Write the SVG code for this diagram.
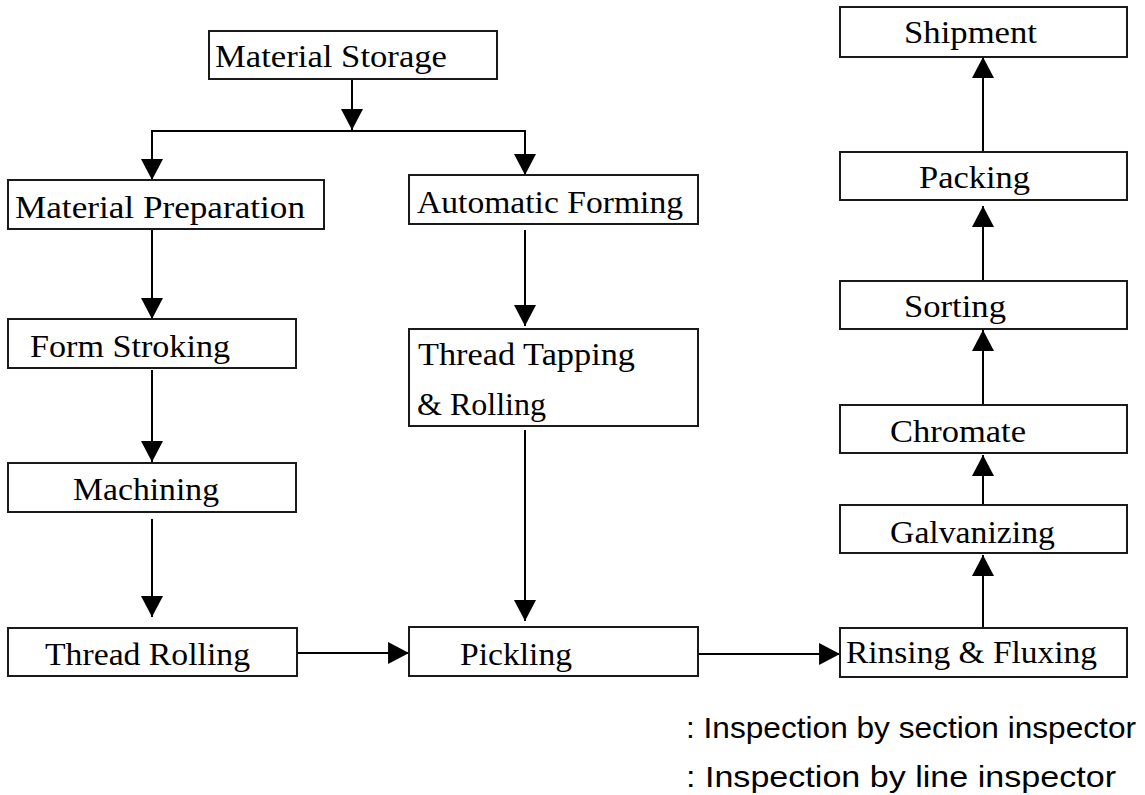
<svg xmlns="http://www.w3.org/2000/svg" width="1145" height="795" viewBox="0 0 1145 795">
  <style>
    .box { fill: #ffffff; stroke: #1a1a1a; stroke-width: 2; }
    .lbl { font-family: "Liberation Serif", "Times New Roman", serif; font-size: 31px; fill: #000000; }
    .note { font-family: "Liberation Sans", Arial, sans-serif; font-size: 30px; fill: #000000; }
    .flow { fill: none; stroke: #000000; stroke-width: 2; }
  </style>
  <defs>
    <marker id="head" markerUnits="userSpaceOnUse" markerWidth="22" markerHeight="22" viewBox="0 0 20 21" refX="20" refY="10.5" orient="auto">
      <path d="M0,0 L20,10.5 L0,21 z" fill="#000000"/>
    </marker>
  </defs>
  <rect width="1145" height="795" fill="#ffffff"/>

  <!-- connectors -->
  <g id="connectors">
    <path class="flow" d="M352,79 V130" marker-end="url(#head)"/>
    <path class="flow" d="M352,131 H152 V180" marker-end="url(#head)"/>
    <path class="flow" d="M352,131 H525 V175" marker-end="url(#head)"/>
    <path class="flow" d="M152,229 V319" marker-end="url(#head)"/>
    <path class="flow" d="M152,370 V462" marker-end="url(#head)"/>
    <path class="flow" d="M152,519 V617" marker-end="url(#head)"/>
    <path class="flow" d="M525,230 V326" marker-end="url(#head)"/>
    <path class="flow" d="M525,430 V621" marker-end="url(#head)"/>
    <path class="flow" d="M297,653 H409" marker-end="url(#head)"/>
    <path class="flow" d="M698,654 H840" marker-end="url(#head)"/>
    <path class="flow" d="M983,628 V555" marker-end="url(#head)"/>
    <path class="flow" d="M983,505 V455" marker-end="url(#head)"/>
    <path class="flow" d="M983,405 V330" marker-end="url(#head)"/>
    <path class="flow" d="M983,281 V206" marker-end="url(#head)"/>
    <path class="flow" d="M983,152 V57" marker-end="url(#head)"/>
  </g>

  <!-- process steps -->
  <g id="material-storage">
    <rect class="box" x="209" y="31" width="288" height="48"/>
    <text class="lbl" x="215" y="67" textLength="232" lengthAdjust="spacingAndGlyphs">Material Storage</text>
  </g>
  <g id="material-preparation">
    <rect class="box" x="8" y="180" width="316" height="49"/>
    <text class="lbl" x="15" y="218" textLength="290" lengthAdjust="spacingAndGlyphs">Material Preparation</text>
  </g>
  <g id="automatic-forming">
    <rect class="box" x="409" y="175" width="289" height="49"/>
    <text class="lbl" x="417" y="213" textLength="266" lengthAdjust="spacingAndGlyphs">Automatic Forming</text>
  </g>
  <g id="form-stroking">
    <rect class="box" x="8" y="319" width="288" height="49"/>
    <text class="lbl" x="30" y="357" textLength="200" lengthAdjust="spacingAndGlyphs">Form Stroking</text>
  </g>
  <g id="thread-tapping">
    <rect class="box" x="409" y="329" width="289" height="97"/>
    <text class="lbl" x="418" y="365" textLength="217" lengthAdjust="spacingAndGlyphs">Thread Tapping</text>
    <text class="lbl" x="417" y="415" textLength="129" lengthAdjust="spacingAndGlyphs">&amp; Rolling</text>
  </g>
  <g id="machining">
    <rect class="box" x="8" y="463" width="288" height="49"/>
    <text class="lbl" x="73" y="500" textLength="146" lengthAdjust="spacingAndGlyphs">Machining</text>
  </g>
  <g id="thread-rolling">
    <rect class="box" x="8" y="628" width="289" height="48"/>
    <text class="lbl" x="45" y="665" textLength="205" lengthAdjust="spacingAndGlyphs">Thread Rolling</text>
  </g>
  <g id="pickling">
    <rect class="box" x="409" y="627" width="289" height="49"/>
    <text class="lbl" x="460" y="665" textLength="112" lengthAdjust="spacingAndGlyphs">Pickling</text>
  </g>
  <g id="rinsing-fluxing">
    <rect class="box" x="840" y="628" width="287" height="49"/>
    <text class="lbl" x="846" y="663" textLength="251" lengthAdjust="spacingAndGlyphs">Rinsing &amp; Fluxing</text>
  </g>
  <g id="galvanizing">
    <rect class="box" x="840" y="505" width="287" height="48"/>
    <text class="lbl" x="890" y="543" textLength="165" lengthAdjust="spacingAndGlyphs">Galvanizing</text>
  </g>
  <g id="chromate">
    <rect class="box" x="840" y="405" width="287" height="48"/>
    <text class="lbl" x="890" y="442" textLength="136" lengthAdjust="spacingAndGlyphs">Chromate</text>
  </g>
  <g id="sorting">
    <rect class="box" x="840" y="281" width="287" height="48"/>
    <text class="lbl" x="904" y="317" textLength="102" lengthAdjust="spacingAndGlyphs">Sorting</text>
  </g>
  <g id="packing">
    <rect class="box" x="840" y="152" width="287" height="48"/>
    <text class="lbl" x="919" y="188" textLength="111" lengthAdjust="spacingAndGlyphs">Packing</text>
  </g>
  <g id="shipment">
    <rect class="box" x="840" y="7" width="287" height="50"/>
    <text class="lbl" x="904" y="43" textLength="133" lengthAdjust="spacingAndGlyphs">Shipment</text>
  </g>

  <!-- legend -->
  <g id="legend">
    <text class="note" x="686" y="738" textLength="450" lengthAdjust="spacingAndGlyphs">: Inspection by section inspector</text>
    <text class="note" x="686" y="787" textLength="430" lengthAdjust="spacingAndGlyphs">:  Inspection by line inspector</text>
  </g>
</svg>
